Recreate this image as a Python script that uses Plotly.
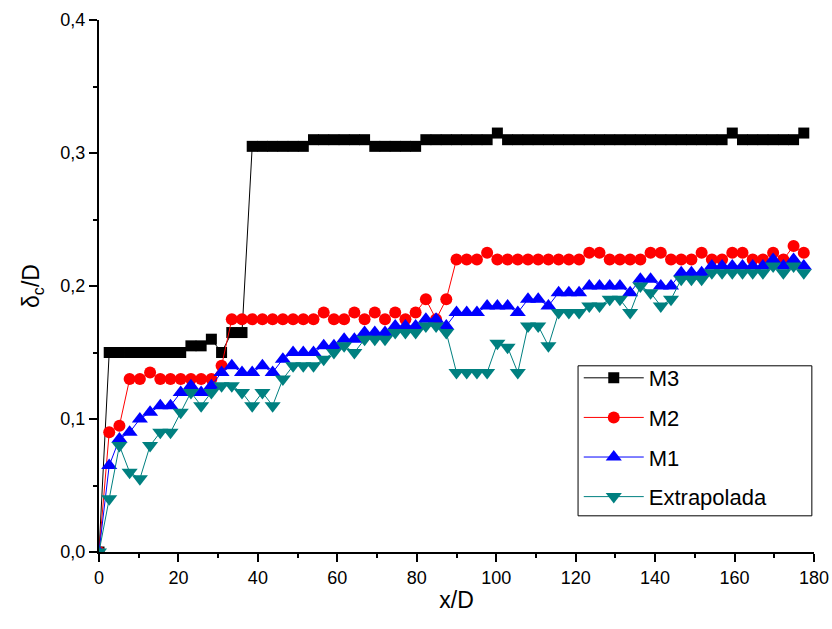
import plotly.graph_objects as go

x_d = [0, 2.57, 5.14, 7.71, 10.29, 12.86, 15.43, 18.0, 20.57, 23.14,
       25.71, 28.29, 30.86, 33.43, 36.0, 38.57, 41.14, 43.71, 46.29, 48.86,
       51.43, 54.0, 56.57, 59.14, 61.71, 64.29, 66.86, 69.43, 72.0, 74.57,
       77.14, 79.71, 82.29, 84.86, 87.43, 90.0, 92.57, 95.14, 97.71, 100.29,
       102.86, 105.43, 108.0, 110.57, 113.14, 115.71, 118.29, 120.86, 123.43, 126.0,
       128.57, 131.14, 133.71, 136.29, 138.86, 141.43, 144.0, 146.57, 149.14, 151.71,
       154.29, 156.86, 159.43, 162.0, 164.57, 167.14, 169.71, 172.29, 174.86, 177.43]

m3 = [0, 0.15, 0.15, 0.15, 0.15, 0.15, 0.15, 0.15, 0.15, 0.155,
      0.155, 0.16, 0.15, 0.165, 0.165, 0.305, 0.305, 0.305, 0.305, 0.305,
      0.305, 0.31, 0.31, 0.31, 0.31, 0.31, 0.31, 0.305, 0.305, 0.305,
      0.305, 0.305, 0.31, 0.31, 0.31, 0.31, 0.31, 0.31, 0.31, 0.315,
      0.31, 0.31, 0.31, 0.31, 0.31, 0.31, 0.31, 0.31, 0.31, 0.31,
      0.31, 0.31, 0.31, 0.31, 0.31, 0.31, 0.31, 0.31, 0.31, 0.31,
      0.31, 0.31, 0.315, 0.31, 0.31, 0.31, 0.31, 0.31, 0.31, 0.315]

m2 = [0, 0.09, 0.095, 0.13, 0.13, 0.135, 0.13, 0.13, 0.13, 0.13,
      0.13, 0.13, 0.14, 0.175, 0.175, 0.175, 0.175, 0.175, 0.175, 0.175,
      0.175, 0.175, 0.18, 0.175, 0.175, 0.18, 0.175, 0.18, 0.175, 0.18,
      0.175, 0.18, 0.19, 0.175, 0.19, 0.22, 0.22, 0.22, 0.225, 0.22,
      0.22, 0.22, 0.22, 0.22, 0.22, 0.22, 0.22, 0.22, 0.225, 0.225,
      0.22, 0.22, 0.22, 0.22, 0.225, 0.225, 0.22, 0.22, 0.22, 0.225,
      0.22, 0.22, 0.225, 0.225, 0.22, 0.22, 0.225, 0.22, 0.23, 0.225]

m1 = [0, 0.065, 0.085, 0.09, 0.1, 0.105, 0.11, 0.11, 0.12, 0.125,
      0.12, 0.125, 0.135, 0.14, 0.135, 0.135, 0.14, 0.135, 0.145, 0.15,
      0.15, 0.15, 0.155, 0.155, 0.16, 0.16, 0.165, 0.165, 0.165, 0.17,
      0.17, 0.17, 0.175, 0.175, 0.17, 0.18, 0.18, 0.18, 0.185, 0.185,
      0.185, 0.18, 0.19, 0.19, 0.185, 0.195, 0.195, 0.195, 0.2, 0.2,
      0.2, 0.2, 0.195, 0.205, 0.205, 0.2, 0.2, 0.21, 0.21, 0.21,
      0.215, 0.215, 0.215, 0.215, 0.215, 0.215, 0.22, 0.215, 0.22, 0.215]

extrapolada = [0, 0.04, 0.08, 0.06, 0.055, 0.08, 0.09, 0.09, 0.105, 0.12,
               0.11, 0.12, 0.125, 0.125, 0.12, 0.11, 0.12, 0.11, 0.13, 0.14,
               0.14, 0.14, 0.145, 0.15, 0.155, 0.15, 0.16, 0.16, 0.16, 0.165,
               0.165, 0.165, 0.17, 0.17, 0.165, 0.135, 0.135, 0.135, 0.135, 0.157,
               0.154, 0.135, 0.17, 0.17, 0.155, 0.18, 0.18, 0.18, 0.185, 0.185,
               0.19, 0.19, 0.18, 0.2, 0.195, 0.185, 0.19, 0.205, 0.205, 0.205,
               0.21, 0.21, 0.21, 0.21, 0.21, 0.21, 0.215, 0.21, 0.215, 0.21]

series_names = ["M3", "M2", "M1", "Extrapolada"]
series_values = [m3, m2, m1, extrapolada]
colors = ["#000000", "#FF0000", "#0000FF", "#008080"]
symbols = ["square", "circle", "triangle-up", "triangle-down"]
sizes = [11, 12, 14, 14]

FONT = "Liberation Sans, Arial, sans-serif"

fig = go.Figure()
for k, (name, vals) in enumerate(zip(series_names, series_values)):
    fig.add_trace(go.Scatter(
        x=x_d, y=vals, name=name, mode="lines+markers",
        legendgroup=name,
        line=dict(color=colors[k], width=1),
        marker=dict(symbol=symbols[k], size=sizes[k], color=colors[k],
                    line=dict(width=0)),
    ))

axis_common = dict(
    showline=True, linecolor="black", linewidth=2,
    ticks="outside", ticklen=8, tickwidth=2, tickcolor="black",
    showgrid=False, zeroline=False, mirror=False, automargin=False,
    tickfont=dict(family=FONT, size=18, color="black"),
)

# legend frame (drawn as a box behind the transparent legend)
fig.add_shape(type="rect", xref="paper", yref="paper",
              x0=0.670, x1=0.997, y0=0.068, y1=0.350,
              line=dict(color="black", width=1), fillcolor="white", layer="above")

fig.update_layout(
    width=832, height=629,
    margin=dict(l=99, r=18, t=20, b=77),
    paper_bgcolor="white", plot_bgcolor="white",
    separators=",.",
    font=dict(family=FONT, color="black"),
    xaxis=dict(range=[0, 180], dtick=20, tick0=0,
               minor=dict(dtick=10, ticklen=4, tickwidth=2, tickcolor="black", ticks="outside"),
               title=dict(text="x/D", font=dict(family=FONT, size=23), standoff=5),
               **axis_common),
    yaxis=dict(range=[0, 0.4], dtick=0.1, tick0=0, tickformat=".1f",
               minor=dict(dtick=0.05, ticklen=4, tickwidth=2, tickcolor="black", ticks="outside"),
               title=dict(text="δ<sub>c</sub>/D", font=dict(family=FONT, size=23), standoff=14),
               **axis_common),
    legend=dict(x=0.671, y=0.3665, xanchor="left", yanchor="top",
                borderwidth=0, bgcolor="rgba(0,0,0,0)",
                font=dict(family=FONT, size=22, color="black"),
                traceorder="grouped", tracegroupgap=8, itemwidth=60),
    showlegend=True,
)

fig.write_html("out.html")
